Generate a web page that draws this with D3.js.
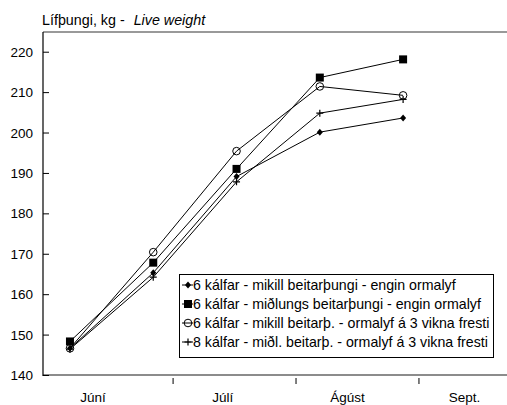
<!DOCTYPE html>
<html>
<head>
<meta charset="utf-8">
<script src="https://cdn.jsdelivr.net/npm/d3@7"></script>
<style>
  body { margin: 0; background: #fff; }
  svg { font-family: "Liberation Sans", Arial, sans-serif; }
</style>
</head>
<body>
<div class="content"></div>
<script>

// days counted from 1 June
var days = [4, 25, 46, 67, 88];
var monthTicks = [30, 61, 92];
var monthNames = ["Júní", "Júlí", "Ágúst", "Sept."];
var monthLabelDays = [9.8, 42.5, 74, 103.5];
var yTicks = [140, 150, 160, 170, 180, 190, 200, 210, 220];

var s1 = [146.6, 165.3, 189.1, 200.1, 203.6];
var s2 = [148.3, 167.8, 191.0, 213.6, 218.1];
var s3 = [146.6, 170.4, 195.4, 211.4, 209.2];
var s4 = [146.4, 164.2, 187.8, 204.8, 208.2];

var labels = [
   "6 kálfar - mikill beitarþungi - engin ormalyf",
   "6 kálfar - miðlungs beitarþungi - engin ormalyf",
   "6 kálfar - mikill beitarþ. - ormalyf á 3 vikna fresti",
   "8 kálfar - miðl. beitarþ. - ormalyf á 3 vikna fresti"
];
var symbols = ["diamond", "square", "circle", "plus"];

var W = 507, H = 405;
var svg = d3.select(".content").append("svg").attr("width", W).attr("height", H);

var x = d3.scaleLinear().domain([-2.8, 114.2]).range([43, 507]);
var y = d3.scaleLinear().domain([140, 225]).range([375, 31.5]);

// title
var title = svg.append("text").attr("x", 42).attr("y", 25).attr("font-size", 14.3);
title.append("tspan").text("Lífþungi, kg - ");
title.append("tspan").attr("dx", 5).attr("font-style", "italic").text("Live weight");

// frame lines
svg.append("line").attr("x1", 43).attr("x2", 507).attr("y1", 32).attr("y2", 32)
   .attr("stroke", "#777").attr("stroke-width", 1.5);
svg.append("line").attr("x1", 43).attr("x2", 507).attr("y1", 375).attr("y2", 375)
   .attr("stroke", "#666").attr("stroke-width", 1.5);
svg.append("line").attr("x1", 43).attr("x2", 43).attr("y1", 32).attr("y2", 376)
   .attr("stroke", "#000").attr("stroke-width", 1.2);

// y axis ticks inside
var yAxis = d3.axisRight(y).tickValues(yTicks).tickSize(6).tickFormat("");
svg.append("g").attr("transform", "translate(43,0)").call(yAxis)
   .call(g => g.select(".domain").remove())
   .call(g => g.selectAll("line").attr("stroke", "#000"));
svg.selectAll(".ylab").data(yTicks).enter().append("text")
   .attr("class", "ylab")
   .attr("x", 33).attr("y", d => y(d) + 5)
   .attr("text-anchor", "end").attr("font-size", 13.5)
   .text(d => d);

// x ticks (month boundaries)
svg.selectAll(".xtick").data(monthTicks).enter().append("line")
   .attr("x1", d => x(d)).attr("x2", d => x(d))
   .attr("y1", 378).attr("y2", 384)
   .attr("stroke", "#000");
svg.selectAll(".xlab").data(monthNames).enter().append("text")
   .attr("x", (d, i) => x(monthLabelDays[i])).attr("y", 402)
   .attr("text-anchor", "middle").attr("font-size", 13.5)
   .text(d => d);

// lines
var line = d3.line().x((d, i) => x(days[i])).y(d => y(d));
var series = [s1, s2, s3, s4];

function drawSymbol(g, type, cx, cy) {
   if (type == "diamond") {
      g.append("path").attr("d", `M${cx},${cy-3.5}L${cx+3},${cy}L${cx},${cy+3.5}L${cx-3},${cy}Z`)
         .attr("fill", "#000");
   } else if (type == "square") {
      g.append("rect").attr("x", cx - 4).attr("y", cy - 4).attr("width", 8).attr("height", 8)
         .attr("fill", "#000");
   } else if (type == "circle") {
      g.append("circle").attr("cx", cx).attr("cy", cy).attr("r", 3.8)
         .attr("fill", "none").attr("stroke", "#000").attr("stroke-width", 1);
   } else {
      g.append("path").attr("d", `M${cx-3.5},${cy}H${cx+3.5}M${cx},${cy-3.5}V${cy+3.5}`)
         .attr("stroke", "#000").attr("stroke-width", 1.2);
   }
}

series.forEach((s, k) => {
   svg.append("path").attr("d", line(s))
      .attr("fill", "none").attr("stroke", "#000").attr("stroke-width", 1);
});
series.forEach((s, k) => {
   var g = svg.append("g");
   s.forEach((v, i) => drawSymbol(g, symbols[k], x(days[i]), y(v)));
});

// legend
var lg = svg.append("g");
lg.append("rect").attr("x", 179.5).attr("y", 274.5).attr("width", 314).attr("height", 83)
   .attr("fill", "#fff").attr("stroke", "#000").attr("stroke-width", 1);
labels.forEach((t, i) => {
   var cy = 285 + i * 19;
   lg.append("line").attr("x1", 182).attr("x2", 193).attr("y1", cy).attr("y2", cy)
      .attr("stroke", "#000");
   drawSymbol(lg, symbols[i], 188, cy);
   lg.append("text").attr("x", 193).attr("y", cy + 5).attr("font-size", 14.2).text(t);
});

</script>
</body>
</html>
